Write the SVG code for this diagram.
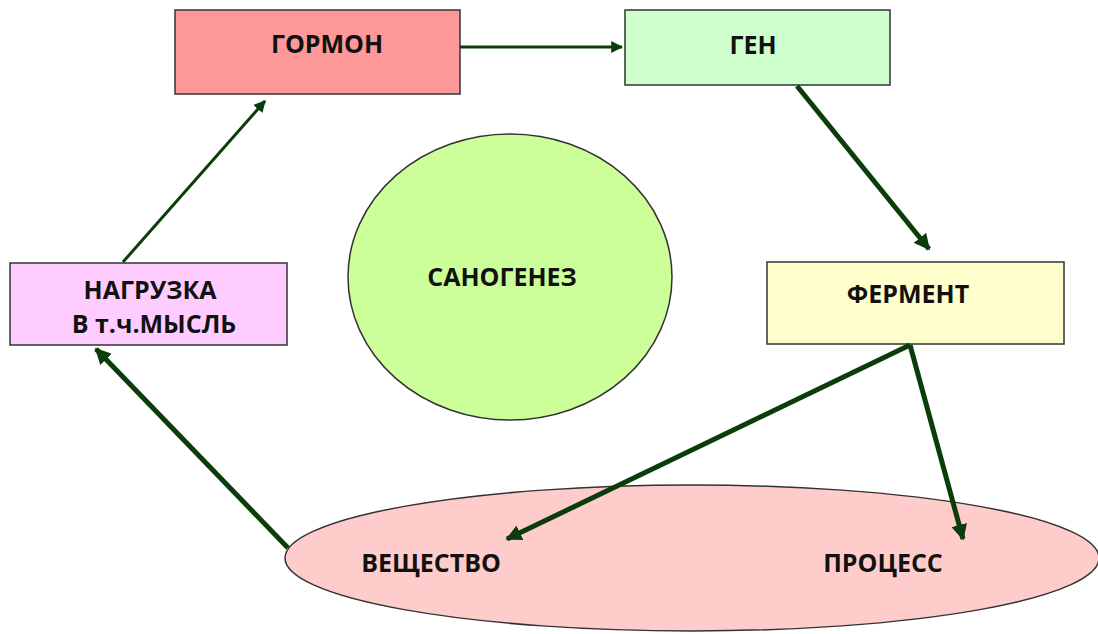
<svg xmlns="http://www.w3.org/2000/svg" width="1098" height="634" viewBox="0 0 1098 634">
<defs>
<style>
.box{stroke:#333;stroke-width:1.5}
.t{font-family:"Open Sans","Liberation Sans",sans-serif;font-weight:bold;font-size:25px;fill:#111;text-anchor:middle}
.c{stroke:#0a3d0a;fill:none}
.thin{stroke-width:3}
.thick{stroke-width:5}
</style>
<marker id="ah" viewBox="0 0 10 10" refX="9" refY="5" markerWidth="4" markerHeight="4" orient="auto" markerUnits="strokeWidth">
<path d="M0,0 L10,5 L0,10 z" fill="#0a3d0a"/>
</marker>
<marker id="ah2" viewBox="0 0 10 10" refX="9" refY="5" markerWidth="3.2" markerHeight="3.2" orient="auto" markerUnits="strokeWidth">
<path d="M0,0 L10,5 L0,10 z" fill="#0a3d0a"/>
</marker>
</defs>
<rect width="1098" height="634" fill="#fff"/>
<g id="gormon">
<rect class="box" x="175" y="10" width="285" height="84" fill="#FF9999"/>
<text class="t" x="327" y="53">ГОРМОН</text>
</g>
<g id="gen">
<rect class="box" x="625" y="10" width="265" height="75" fill="#CCFFCC"/>
<text class="t" x="753" y="54">ГЕН</text>
</g>
<g id="nagruzka">
<rect class="box" x="10" y="263" width="277" height="82" fill="#FFCCFF"/>
<text class="t" x="150" y="299">НАГРУЗКА</text>
<text class="t" x="154" y="333">В т.ч.МЫСЛЬ</text>
</g>
<g id="ferment">
<rect class="box" x="767" y="262" width="297" height="82" fill="#FFFFCC"/>
<text class="t" x="908" y="303">ФЕРМЕНТ</text>
</g>
<g id="sanogenez">
<ellipse class="box" cx="510" cy="277" rx="162" ry="143" fill="#CCFF99" stroke-width="1"/>
<text class="t" x="502" y="286">САНОГЕНЕЗ</text>
</g>
<g id="ellipse">
<ellipse class="box" cx="692" cy="558" rx="407" ry="73" fill="#FFCCCC" stroke-width="1"/>
<text class="t" x="431" y="572">ВЕЩЕСТВО</text>
<text class="t" x="883" y="572">ПРОЦЕСС</text>
</g>
<g id="connectors">
<line class="c thin" x1="460" y1="47" x2="622" y2="47" marker-end="url(#ah)"/>
<line class="c thick" x1="797" y1="86" x2="929" y2="249" marker-end="url(#ah2)"/>
<line class="c thick" x1="910" y1="345" x2="507" y2="539" marker-end="url(#ah2)"/>
<line class="c thick" x1="910" y1="345" x2="963" y2="539" marker-end="url(#ah2)"/>
<line class="c thick" x1="288" y1="548" x2="96" y2="349" marker-end="url(#ah2)"/>
<line class="c thin" x1="123" y1="262" x2="265" y2="101" marker-end="url(#ah)"/>
</g>
</svg>
